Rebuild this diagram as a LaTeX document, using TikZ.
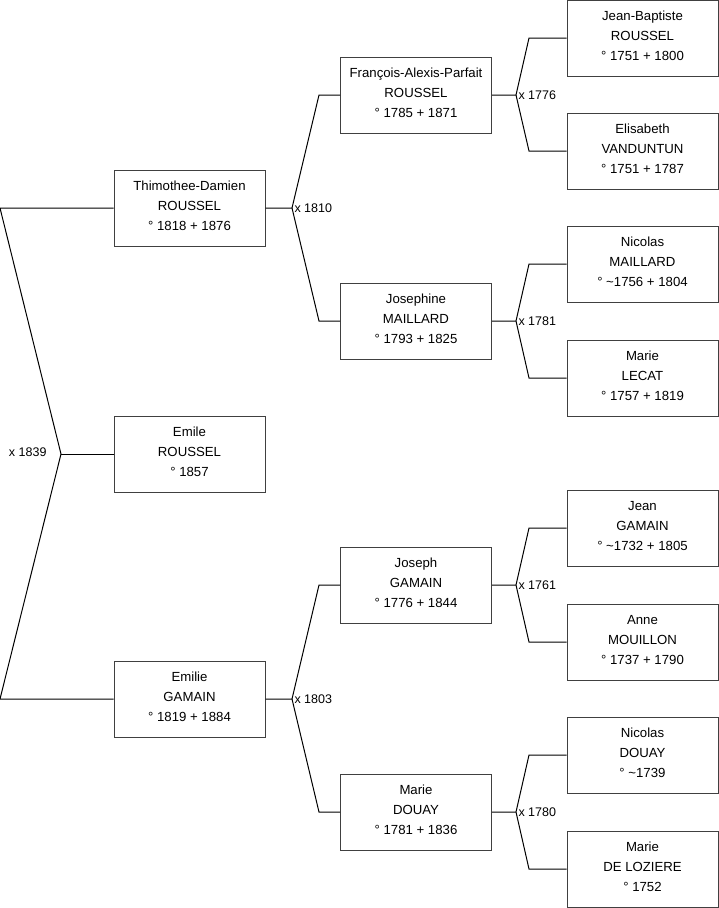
\documentclass[tikz,border=0pt]{standalone}
\usepackage{fontspec}
\setmainfont{Liberation Sans}
\begin{document}
\begin{tikzpicture}[x=1pt,y=-1pt,line width=1pt,
  every node/.style={font=\fontsize{12.5}{20}\selectfont},
  person/.style={draw=black!75,minimum width=151pt,minimum height=76pt,align=center,inner sep=0pt,
    font=\fontsize{13.2}{20}\selectfont,execute at end node={\rule[-4pt]{0pt}{4pt}}},
  wed/.style={inner sep=2pt}]
\useasboundingbox (0,0) rectangle (719,908);
% generation 1
\node[person] (thimothee) at (189.5,208) {Thimothee-Damien\\ROUSSEL\\° 1818 + 1876};
\node[person] (emile) at (189.5,454) {Emile\\ROUSSEL\\° 1857};
\node[person] (emilie) at (189.5,699) {Emilie\\GAMAIN\\° 1819 + 1884};
% generation 2
\node[person] (francois) at (416,95) {François-Alexis-Parfait\\ROUSSEL\\° 1785 + 1871};
\node[person] (josephine) at (416,321) {Josephine\\MAILLARD\\° 1793 + 1825};
\node[person] (joseph) at (416,585) {Joseph\\GAMAIN\\° 1776 + 1844};
\node[person] (marie) at (416,812) {Marie\\DOUAY\\° 1781 + 1836};
% generation 3
\node[person] (jeanbaptiste) at (642.5,38) {Jean-Baptiste\\ROUSSEL\\° 1751 + 1800};
\node[person] (elisabeth) at (642.5,151) {Elisabeth\\VANDUNTUN\\° 1751 + 1787};
\node[person] (nicolasm) at (642.5,264) {Nicolas\\MAILLARD\\° \textasciitilde1756 + 1804};
\node[person] (mariel) at (642.5,378) {Marie\\LECAT\\° 1757 + 1819};
\node[person] (jean) at (642.5,528) {Jean\\GAMAIN\\° \textasciitilde1732 + 1805};
\node[person] (anne) at (642.5,642) {Anne\\MOUILLON\\° 1737 + 1790};
\node[person] (nicolasd) at (642.5,755) {Nicolas\\DOUAY\\° \textasciitilde1739};
\node[person] (mariedl) at (642.5,869) {Marie\\DE LOZIERE\\° 1752};
% marriage of the parents
\coordinate (w1839) at (61,454);
\coordinate (w1839a) at (0,208);
\coordinate (w1839b) at (0,699);
\draw (emile.west) -- (w1839);
\draw (thimothee.west) -- (w1839a) -- (w1839) -- (w1839b) -- (emilie.west);
\node[anchor=east,inner sep=0pt] (x1839) at (47,452) {x 1839};
% marriages of the grandparents
\coordinate (w1810) at (292,208);
\draw (thimothee.east) -- (w1810) -- (319,95) -- (francois.west);
\draw (w1810) -- (319,321) -- (josephine.west);
\node[wed,anchor=west] (x1810) at (w1810) {x 1810};
\coordinate (w1803) at (292,699);
\draw (emilie.east) -- (w1803) -- (319,585) -- (joseph.west);
\draw (w1803) -- (319,812) -- (marie.west);
\node[wed,anchor=west] (x1803) at (w1803) {x 1803};
% marriages of the great-grandparents
\coordinate (w1776) at (516,95);
\draw (francois.east) -- (w1776) -- (529,38) -- (jeanbaptiste.west);
\draw (w1776) -- (529,151) -- (elisabeth.west);
\node[wed,anchor=west] (x1776) at (w1776) {x 1776};
\coordinate (w1781) at (516,321);
\draw (josephine.east) -- (w1781) -- (529,264) -- (nicolasm.west);
\draw (w1781) -- (529,378) -- (mariel.west);
\node[wed,anchor=west] (x1781) at (w1781) {x 1781};
\coordinate (w1761) at (516,585);
\draw (joseph.east) -- (w1761) -- (529,528) -- (jean.west);
\draw (w1761) -- (529,642) -- (anne.west);
\node[wed,anchor=west] (x1761) at (w1761) {x 1761};
\coordinate (w1780) at (516,812);
\draw (marie.east) -- (w1780) -- (529,755) -- (nicolasd.west);
\draw (w1780) -- (529,869) -- (mariedl.west);
\node[wed,anchor=west] (x1780) at (w1780) {x 1780};
\end{tikzpicture}
\end{document}
